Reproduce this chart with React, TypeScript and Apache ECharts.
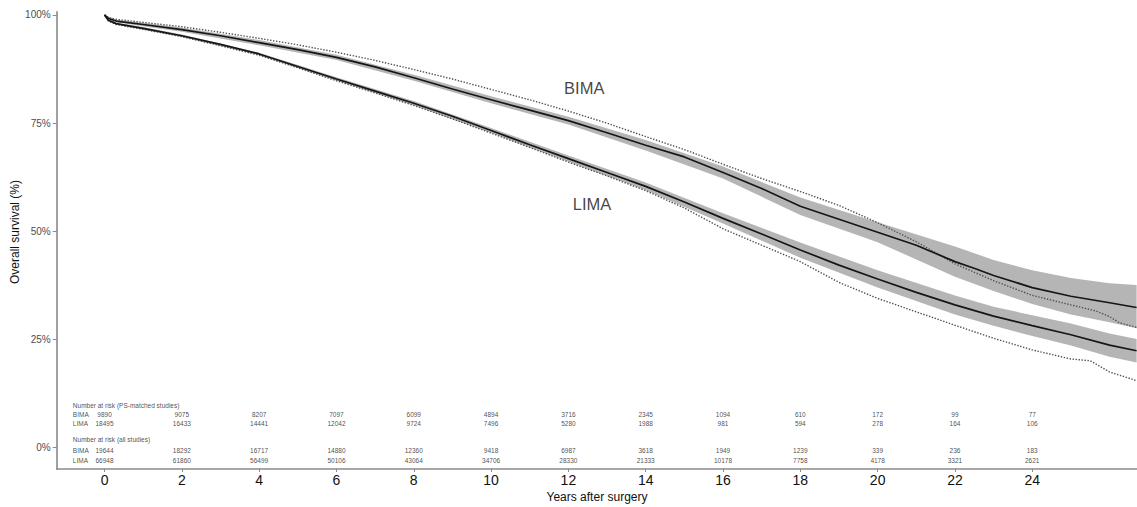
import React, { useEffect, useRef } from "react";
import * as echarts from "echarts";

const FONT = "'Liberation Sans', Arial, sans-serif";

// Axis ticks
const xTicks = [0, 2, 4, 6, 8, 10, 12, 14, 16, 18, 20, 22, 24];
const yTicks = [0, 25, 50, 75, 100];

// Survival curves [years, %]
const bimaMatched = [
  [0, 100], [0.1, 99.2], [0.3, 98.6], [1, 97.8], [2, 96.6], [3, 95.2], [4, 93.6], [5, 92.0],
  [6, 90.2], [7, 88.0], [8, 85.5], [9, 82.9], [10, 80.4], [11, 78.0], [12, 75.6], [13, 72.8],
  [14, 69.9], [15, 67.2], [16, 63.6], [17, 59.9], [18, 55.8], [19, 52.8], [20, 49.8],
  [21, 46.8], [22, 43.0], [22.55, 41.3], [23, 39.8], [24, 37.0], [25, 35.0], [26, 33.5], [26.7, 32.4],
];
const bimaAll = [
  [0, 100], [0.1, 99.4], [0.3, 99.0], [1, 98.3], [2, 97.3], [3, 96.0], [4, 94.6], [5, 93.1],
  [6, 91.4], [7, 89.5], [8, 87.4], [9, 85.2], [10, 82.8], [11, 80.4], [12, 77.8], [13, 75.0],
  [14, 71.9], [15, 68.9], [16, 65.5], [17, 62.2], [18, 59.2], [19, 56.0], [20, 52.0],
  [21, 47.6], [22, 42.5], [23, 38.6], [24, 35.2], [25, 33.0], [25.65, 31.6], [26, 30.3],
  [26.25, 28.9], [26.7, 27.8],
];
const limaMatched = [
  [0, 100], [0.1, 98.8], [0.3, 98.0], [1, 96.9], [2, 95.2], [3, 93.2], [4, 91.0], [5, 88.1],
  [6, 85.2], [7, 82.4], [8, 79.6], [9, 76.6], [10, 73.3], [11, 70.0], [12, 66.8], [13, 63.6],
  [14, 60.4], [15, 56.8], [16, 53.0], [17, 49.4], [18, 45.7], [19, 42.2], [20, 39.0],
  [21, 35.9], [22, 33.0], [23, 30.4], [24, 28.2], [25, 26.1], [26, 23.7], [26.7, 22.4],
];
const limaAll = [
  [0, 100], [0.1, 98.6], [0.3, 97.8], [1, 96.7], [2, 95.0], [3, 92.9], [4, 90.7], [5, 87.8],
  [6, 84.8], [7, 82.0], [8, 79.1], [9, 76.0], [10, 72.7], [11, 69.4], [12, 66.0], [13, 62.8],
  [14, 59.4], [15, 55.4], [16, 50.6], [17, 46.8], [18, 43.0], [19, 38.2], [20, 34.5],
  [21, 31.4], [22, 28.3], [23, 25.3], [24, 22.6], [25, 20.5], [25.5, 20.1], [26, 17.5], [26.7, 15.5],
];

// Confidence bands (PS-matched)
const bandT = [0, 0.3, 1, 2, 4, 6, 8, 10, 12, 14, 16, 18, 20, 22, 23, 24, 25, 26, 26.7];
const bimaLo = [100, 98.3, 97.4, 96.1, 93.0, 89.6, 84.8, 79.6, 74.7, 68.7, 62.2, 53.8, 47.5, 39.5, 36.2, 33.2, 30.8, 29.0, 27.6];
const bimaHi = [100, 98.9, 98.2, 97.1, 94.2, 90.8, 86.2, 81.2, 76.5, 71.1, 65.0, 57.8, 52.1, 46.5, 43.4, 41.0, 39.2, 38.0, 37.6];
const limaLo = [100, 97.8, 96.6, 94.9, 90.7, 84.8, 79.1, 72.7, 66.1, 59.5, 51.8, 43.9, 37.0, 30.8, 28.2, 25.8, 23.6, 21.0, 19.7];
const limaHi = [100, 98.2, 97.2, 95.5, 91.3, 85.6, 80.1, 73.9, 67.5, 61.3, 54.2, 47.4, 41.0, 35.2, 32.6, 30.6, 28.7, 26.4, 25.1];

// Number at risk
const riskYears = [0, 2, 4, 6, 8, 10, 12, 14, 16, 18, 20, 22, 24];
const psBima = [9890, 9075, 8207, 7097, 6099, 4894, 3716, 2345, 1094, 610, 172, 99, 77];
const psLima = [18495, 16433, 14441, 12042, 9724, 7496, 5280, 1988, 981, 594, 278, 164, 106];
const allBima = [19644, 18292, 16717, 14880, 12360, 9418, 6987, 3618, 1949, 1239, 339, 236, 183];
const allLima = [66948, 61860, 56499, 50106, 43064, 34706, 28330, 21333, 10178, 7758, 4178, 3321, 2621];

// table layout (data units)
const TABLE_LABEL_X = -0.82;
const ROW_Y = { h1: 9.87, b1: 7.56, l1: 5.48, h2: 2.01, b2: -0.53, l2: -3.0 };

function bandSeries(lo: number[], hi: number[]) {
  return {
    type: "custom",
    silent: true,
    clip: true,
    data: [[0, 0]],
    renderItem: (_p: any, api: any) => {
      const pts: number[][] = [];
      for (let i = 0; i < bandT.length; i++) pts.push(api.coord([bandT[i], hi[i]]));
      for (let i = bandT.length - 1; i >= 0; i--) pts.push(api.coord([bandT[i], lo[i]]));
      return { type: "polygon", shape: { points: pts }, style: { fill: "#b5b5b5" } };
    },
    z: 1,
  };
}

function lineSeries(data: number[][], dotted: boolean) {
  return {
    type: "line",
    data,
    showSymbol: false,
    symbol: "none",
    silent: true,
    clip: true,
    lineStyle: dotted
      ? { color: "#505050", width: 1.4, type: [1.4, 1.6] }
      : { color: "#161616", width: 1.7 },
    z: dotted ? 2 : 3,
  };
}

function textItems(rows: { x: number; y: number; text: string; align: string }[], fontSize: number, color: string) {
  return {
    type: "scatter",
    symbolSize: 0,
    silent: true,
    data: rows.map((r) => ({
      value: [r.x, r.y],
      label: {
        show: true,
        position: "inside",
        formatter: r.text,
        align: r.align,
        verticalAlign: "middle",
        fontSize,
        color,
        fontFamily: FONT,
      },
    })),
    z: 5,
  };
}

function buildTable() {
  const rows: { x: number; y: number; text: string; align: string }[] = [];
  rows.push({ x: TABLE_LABEL_X, y: ROW_Y.h1, text: "Number at risk (PS-matched studies)", align: "left" });
  rows.push({ x: TABLE_LABEL_X, y: ROW_Y.b1, text: "BIMA", align: "left" });
  rows.push({ x: TABLE_LABEL_X, y: ROW_Y.l1, text: "LIMA", align: "left" });
  rows.push({ x: TABLE_LABEL_X, y: ROW_Y.h2, text: "Number at risk (all studies)", align: "left" });
  rows.push({ x: TABLE_LABEL_X, y: ROW_Y.b2, text: "BIMA", align: "left" });
  rows.push({ x: TABLE_LABEL_X, y: ROW_Y.l2, text: "LIMA", align: "left" });
  riskYears.forEach((t, i) => {
    rows.push({ x: t, y: ROW_Y.b1, text: String(psBima[i]), align: "center" });
    rows.push({ x: t, y: ROW_Y.l1, text: String(psLima[i]), align: "center" });
    rows.push({ x: t, y: ROW_Y.b2, text: String(allBima[i]), align: "center" });
    rows.push({ x: t, y: ROW_Y.l2, text: String(allLima[i]), align: "center" });
  });
  return rows;
}

export default function App() {
  const ref = useRef<HTMLDivElement>(null);
  useEffect(() => {
    const chart = echarts.init(ref.current!, null, { renderer: "svg" });
    const axisGrey = "#8a8a8a";
    chart.setOption({
      animation: false,
      backgroundColor: "#ffffff",
      textStyle: { fontFamily: FONT },
      grid: { left: 56.7, right: 0, top: 11.7, bottom: 38, containLabel: false },
      xAxis: {
        type: "value",
        min: -1.237,
        max: 26.71,
        axisLine: { show: true, onZero: false, lineStyle: { color: axisGrey, width: 1.6 } },
        axisTick: { show: true, length: 3, customValues: xTicks, lineStyle: { color: axisGrey, width: 1 } },
        axisLabel: {
          show: true,
          customValues: xTicks,
          fontSize: 14,
          color: "#111111",
          margin: 4,
          fontFamily: FONT,
          formatter: (v: number) => String(v),
        },
        splitLine: { show: false },
      },
      yAxis: {
        type: "value",
        min: -4.92,
        max: 100.76,
        axisLine: { show: true, onZero: false, lineStyle: { color: axisGrey, width: 1.6 } },
        axisTick: { show: true, length: 4, customValues: yTicks, lineStyle: { color: axisGrey, width: 1 } },
        axisLabel: {
          show: true,
          customValues: yTicks,
          fontSize: 10,
          color: "#4d4d4d",
          margin: 6,
          fontFamily: FONT,
          formatter: (v: number) => v + "%",
        },
        splitLine: { show: false },
      },
      series: [
        bandSeries(bimaLo, bimaHi),
        bandSeries(limaLo, limaHi),
        lineSeries(bimaAll, true),
        lineSeries(limaAll, true),
        lineSeries(bimaMatched, false),
        lineSeries(limaMatched, false),
        textItems(
          [
            { x: 12.41, y: 83.1, text: "BIMA", align: "center" },
            { x: 12.61, y: 56.3, text: "LIMA", align: "center" },
          ],
          16.5,
          "#111111"
        ),
        textItems(buildTable(), 6.5, "#1a1a1a"),
      ],
      graphic: [
        {
          type: "text",
          x: 15,
          y: 232,
          rotation: Math.PI / 2,
          style: {
            text: "Overall survival (%)",
            fontSize: 12,
            fill: "#111111",
            align: "center",
            verticalAlign: "middle",
            fontFamily: FONT,
          },
        },
        {
          type: "text",
          x: 597,
          y: 497,
          style: {
            text: "Years after surgery",
            fontSize: 12,
            fill: "#111111",
            align: "center",
            verticalAlign: "middle",
            fontFamily: FONT,
          },
        },
      ],
    });
    return () => chart.dispose();
  }, []);
  return (
    <div
      ref={ref}
      style={{ position: "absolute", left: 0, top: 0, width: 1137, height: 507 }}
    />
  );
}
